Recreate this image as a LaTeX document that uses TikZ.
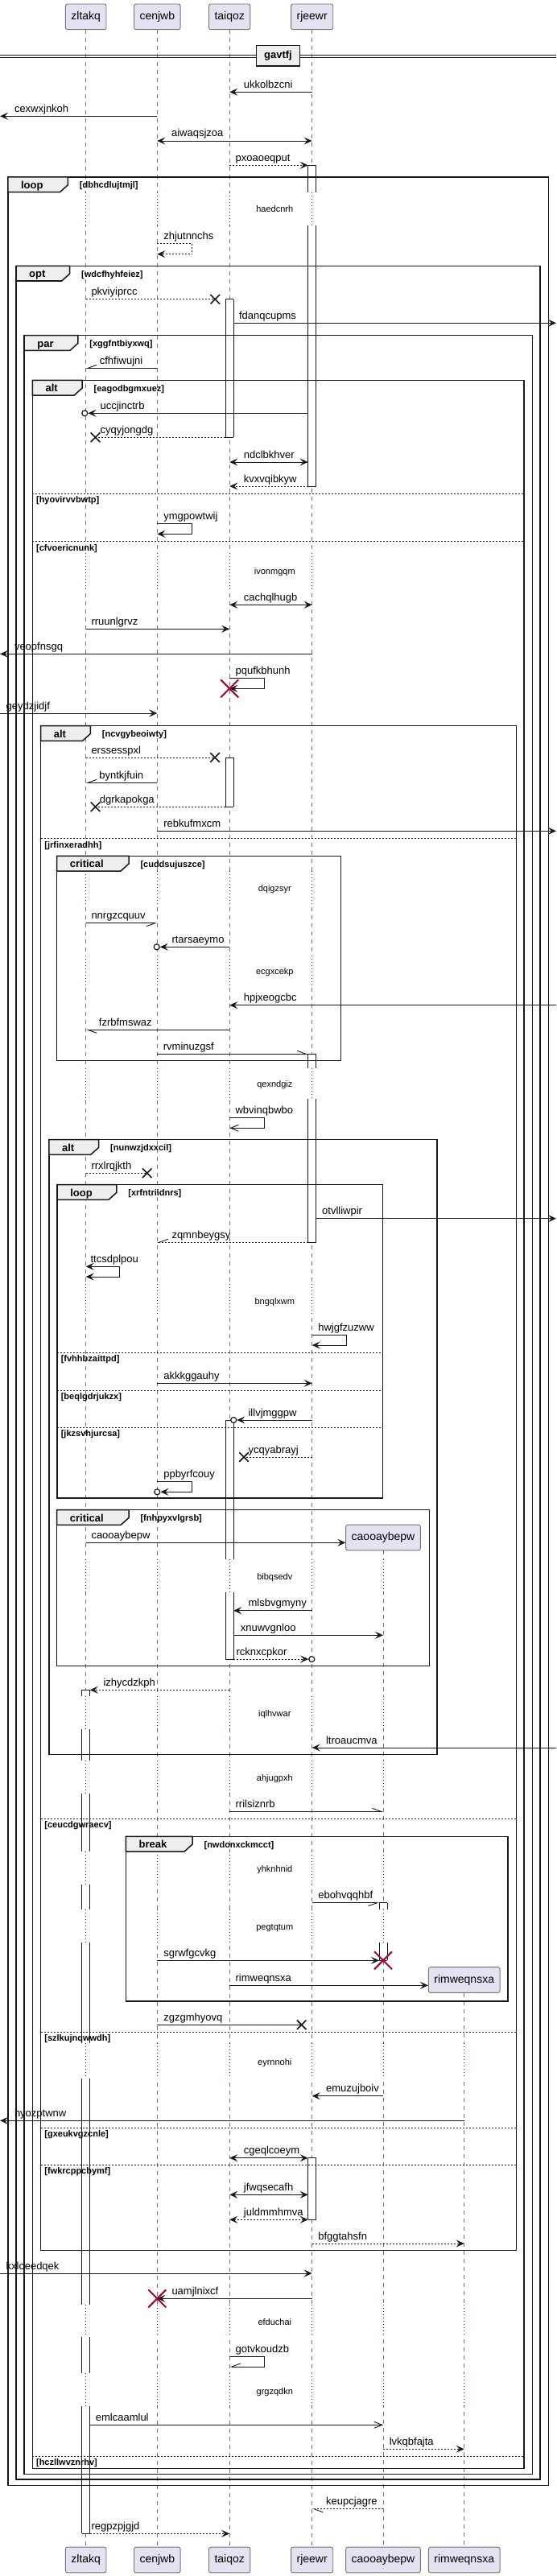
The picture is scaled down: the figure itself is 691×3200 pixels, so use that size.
\documentclass[tikz,border=0pt]{standalone}
\usepackage{fontspec}
\setmainfont{Liberation Sans}
\usetikzlibrary{arrows.meta,positioning,shapes.misc}

\definecolor{ink}{HTML}{181818}
\definecolor{partfill}{HTML}{E2E2F0}
\definecolor{tabfill}{HTML}{EEEEEE}
\definecolor{delayred}{HTML}{A80036}

\tikzset{
  part/.style={draw=black!55, fill=partfill, rounded corners=2.5pt, line width=0.9pt,
    minimum height=31.7pt, inner xsep=7pt, inner ysep=0pt, font=\fontsize{14}{16}\selectfont},
  life/.style={draw=black!55, line width=0.8pt, dash pattern=on 5pt off 5pt},
  gap/.style={draw=delayred, line width=0.8pt, dash pattern=on 1pt off 3pt,
    preaction={draw=white, line width=3pt, solid}},
  actline/.style={draw=ink, line width=0.9pt},
  msg/.style={draw=ink, line width=0.9pt},
  ret/.style={msg, dash pattern=on 2pt off 2pt},
  head/.style={-{Stealth[length=10pt,width=9pt,inset=4pt]}},
  heads/.style={{Stealth[length=10pt,width=9pt,inset=4pt]}-{Stealth[length=10pt,width=9pt,inset=4pt]}},
  openhead/.style={-{Straight Barb[length=10pt,width=8pt]}},
  barbl/.style={-{Straight Barb[harpoon,length=11pt,width=8pt]}},
  barbr/.style={-{Straight Barb[harpoon,swap,length=11pt,width=8pt]}},
  msgtxt/.style={anchor=base west, inner sep=0pt, font=\fontsize{13}{15}\selectfont},
  delaytxt/.style={anchor=base, inner sep=0pt, font=\fontsize{11}{13}\selectfont},
  lost/.style={cross out, draw=ink, line width=1.6pt, minimum size=10pt, inner sep=0pt},
  killed/.style={cross out, draw=delayred, line width=2pt, minimum size=20pt, inner sep=0pt},
  ocirc/.style={circle, draw=ink, line width=1.2pt, minimum size=7pt, inner sep=0pt, fill=white},
  grpline/.style={draw=ink, line width=1.5pt},
  grptab/.style={draw=ink, fill=tabfill, line width=1.5pt},
  grpkw/.style={anchor=base west, inner sep=0pt, font=\fontsize{13}{15}\selectfont\bfseries},
  grpcond/.style={anchor=base west, inner sep=0pt, font=\fontsize{11}{13}\selectfont\bfseries},
  elseline/.style={draw=ink, line width=1pt, dash pattern=on 2pt off 2pt},
}

% activation bar pieces: side lines on white, and a cap line
\newcommand{\actbar}[3]{%
  \fill[white] (#1-l |- 0,#2) rectangle (#1-r |- 0,#3);
  \draw[actline] (#1-l |- 0,#2) -- (#1-l |- 0,#3) (#1-r |- 0,#2) -- (#1-r |- 0,#3);}
\newcommand{\actcap}[2]{\draw[actline] (#1-l |- 0,#2) -- (#1-r |- 0,#2);}
% group frame: name, x1, y1, x2, y2, tab right, keyword, condition
\newcommand{\grpbox}[8]{%
  \draw[grpline] (#2,#3) rectangle (#4,#5);
  \draw[grptab] (#2,#3) -- (#6,#3) -- (#6,#3+9.7) -- (#6-10,#3+18.7) -- (#2,#3+18.7) -- cycle;
  \node[grpkw] (#1) at (#2+16,#3+14.5) {#7};
  \node[grpcond] (#1-cond) at (#6+14.3,#3+13.8) {[#8]};}
% else line: name, x1, x2, y, condition
\newcommand{\grpelse}[5]{%
  \draw[elseline] (#2,#4) -- (#3,#4);
  \node[grpcond] (#1) at (#2+4.5,#4+11.5) {[#5]};}

\begin{document}
\begin{tikzpicture}[x=1pt,y=-1pt]
  \useasboundingbox (0,0) rectangle (691,3200);
  \coordinate (west) at (0,0);
  \coordinate (east) at (691,0);

  % participants
  \node[part] (zltakq) at (106.7,20.85) {zltakq};
  \node[part] (cenjwb) at (195.3,20.85) {cenjwb};
  \node[part] (taiqoz) at (285.2,20.85) {taiqoz};
  \node[part] (rjeewr) at (387.7,20.85) {rjeewr};
  \node[part] (caooaybepw) at (476,1910) {caooaybepw};
  \node[part] (rimweqnsxa) at (576.7,2459.5) {rimweqnsxa};
  \node[part] (zltakqEnd) at (106.7,3180) {zltakq};
  \node[part] (cenjwbEnd) at (195.3,3180) {cenjwb};
  \node[part] (taiqozEnd) at (285.2,3180) {taiqoz};
  \node[part] (rjeewrEnd) at (387.7,3180) {rjeewr};
  \node[part] (caooaybepwEnd) at (476,3180) {caooaybepw};
  \node[part] (rimweqnsxaEnd) at (576.7,3180) {rimweqnsxa};
  \foreach \p in {zltakq,cenjwb,taiqoz,rjeewr,caooaybepw,rimweqnsxa} {
    \coordinate (\p-l) at ([xshift=-5pt]\p.center);
    \coordinate (\p-r) at ([xshift=5pt]\p.center);
    \draw[life] (\p.south) -- (\p End.north);
  }

  % delays
  \foreach \ya/\yb in {238.7/280,686.7/730,1081.7/1123.3,1186.7/1226.7,1326.7/1365,1595/1635}
    \foreach \p in {zltakq,cenjwb,taiqoz,rjeewr}
      \draw[gap] (\p |- 0,\ya) -- (\p |- 0,\yb);
  \foreach \ya/\yb in {1936.7/1978.3,2107.3/2148.3,2186.7/2228.3,2300/2341,2372/2413.3}
    \foreach \p in {zltakq,cenjwb,taiqoz,rjeewr,caooaybepw}
      \draw[gap] (\p |- 0,\ya) -- (\p |- 0,\yb);
  \foreach \ya/\yb in {2538/2582,2863/2903,2948/2989}
    \foreach \p in {zltakq,cenjwb,taiqoz,rjeewr,caooaybepw,rimweqnsxa}
      \draw[gap] (\p |- 0,\ya) -- (\p |- 0,\yb);
  \foreach \yt/\txt in {260/haedcnrh,709.3/ivonmgqm,1103.3/dqigzsyr,1206/ecgxcekp,
      1346.7/qexndgiz,1616/bngqlxwm,1958.3/bibqsedv,2128.3/iqlhvwar,2208.3/ahjugpxh,
      2321.3/yhknhnid,2393.3/pegtqtum,2561/eyrnnohi,2884.3/efduchai,2970/grgzqdkn}
    \node[delaytxt] (d-\txt) at (341.3,\yt+4) {\txt};

  % activations
  \actbar{rjeewr}{205.3}{238.7} \actcap{rjeewr}{205.3}
  \actbar{rjeewr}{280}{604} \actcap{rjeewr}{604}
  \actbar{rjeewr}{1309.3}{1326.7} \actcap{rjeewr}{1309.3}
  \actbar{rjeewr}{1365}{1543.3} \actcap{rjeewr}{1543.3}
  \actbar{rjeewr}{2680.7}{2757.3} \actcap{rjeewr}{2680.7} \actcap{rjeewr}{2757.3}
  \actbar{taiqoz}{371.7}{543.3} \actcap{taiqoz}{371.7} \actcap{taiqoz}{543.3}
  \actbar{taiqoz}{941}{1002.3} \actcap{taiqoz}{941} \actcap{taiqoz}{1002.3}
  \actbar{taiqoz}{1764}{1936.7} \actcap{taiqoz}{1764}
  \actbar{taiqoz}{1978.3}{2061} \actcap{taiqoz}{2061}
  \actbar{caooaybepw}{2363.7}{2372} \actcap{caooaybepw}{2363.7}
  \actbar{caooaybepw}{2413.3}{2435.3} \actcap{caooaybepw}{2435.3}
  \actbar{zltakq}{2099.3}{2107.3} \actcap{zltakq}{2099.3}
  \actbar{zltakq}{2148.3}{2186.7}
  \actbar{zltakq}{2228.3}{2300}
  \actbar{zltakq}{2341}{2372}
  \actbar{zltakq}{2413.3}{2538}
  \actbar{zltakq}{2582}{2863}
  \actbar{zltakq}{2903}{2948}
  \actbar{zltakq}{2989}{3147.3} \actcap{zltakq}{3147.3}

  % divider
  \draw[ink, line width=0.9pt] (west |- 0,68.3) -- (east |- 0,68.3) (west |- 0,71) -- (east |- 0,71);
  \node[draw=ink, fill=tabfill, line width=1.5pt, minimum width=53.7pt, minimum height=25.3pt,
    inner sep=0pt, font=\fontsize{13}{15}\selectfont\bfseries] (gavtfj) at (345.5,69.35) {gavtfj};

  % groups
  \grpbox{loop1}{9.8}{220}{681.3}{3087.7}{84.4}{loop}{dbhcdlujtmjl}
  \grpbox{opt1}{20}{330.3}{671.1}{3080}{86.7}{opt}{wdcfhyhfeiez}
  \grpbox{par1}{30.2}{416.7}{661.3}{3073.3}{96.9}{par}{xggfntbiyxwq}
  \grpbox{alt1}{40.4}{472.3}{651.1}{3066.7}{102.2}{alt}{eagodbgmxuez}
  \grpelse{alt1-e1}{40.4}{651.1}{613.3}{hyovirvvbwtp}
  \grpelse{alt1-e2}{40.4}{651.1}{672.7}{cfvoericnunk}
  \grpelse{alt1-e3}{40.4}{651.1}{3051}{hczllwvznrhv}
  \grpbox{alt2}{50.7}{901.7}{641.3}{2795.3}{112.4}{alt}{ncvgybeoiwty}
  \grpelse{alt2-e1}{50.7}{641.3}{1041.7}{jrfinxeradhh}
  \grpelse{alt2-e2}{50.7}{641.3}{2259.3}{ceucdgwraecv}
  \grpelse{alt2-e3}{50.7}{641.3}{2524.3}{szlkujnqwwdh}
  \grpelse{alt2-e4}{50.7}{641.3}{2643.3}{gxeukvgzcnle}
  \grpelse{alt2-e5}{50.7}{641.3}{2689.3}{fwkrcppcbymf}
  \grpbox{crit1}{70.7}{1063.3}{423.6}{1317.3}{160}{critical}{cuddsujuszce}
  \grpbox{alt3}{60.9}{1415.7}{543.1}{2179.3}{122.7}{alt}{nunwzjdxxcil}
  \grpbox{loop2}{71.1}{1471.7}{475.6}{1861}{144.9}{loop}{xrfntriidnrs}
  \grpelse{loop2-e1}{71.1}{475.6}{1680}{fvhhbzaittpd}
  \grpelse{loop2-e2}{71.1}{475.6}{1727}{beqlgdrjukzx}
  \grpelse{loop2-e3}{71.1}{475.6}{1773}{jkzsvhjurcsa}
  \grpbox{crit2}{70.7}{1875.7}{533.3}{2069.3}{160}{critical}{fnhpyxvlgrsb}
  \grpbox{brk1}{156.4}{2281.3}{631.1}{2486}{239.1}{break}{nwdonxckmcct}

  % messages before the loop
  \draw[msg,head] (rjeewr |- 0,114.3) -- (taiqoz |- 0,114.3);
  \node[msgtxt] (m-ukkolbzcni) at (302.7,109.3) {ukkolbzcni};
  \draw[msg,head] (cenjwb |- 0,144.3) -- (west |- 0,144.3);
  \node[msgtxt] (m-cexwxjnkoh) at (17.8,139.3) {cexwxjnkoh};
  \draw[msg,heads] (cenjwb |- 0,175) -- (rjeewr |- 0,175);
  \node[msgtxt] (m-aiwaqsjzoa) at (212.9,170) {aiwaqsjzoa};
  \draw[ret,head] (taiqoz |- 0,205.3) -- (rjeewr-l |- 0,205.3);
  \node[msgtxt] (m-pxoaoeqput) at (292.4,200.3) {pxoaoeqput};

  % loop / opt / par
  \draw[ret,head] (cenjwb |- 0,302.3) -- ++(43.6,0) -- ++(0,13.4) -- (cenjwb |- 0,315.7);
  \node[msgtxt] (m-zhjutnnchs) at (203.1,297.3) {zhjutnnchs};
  \node[lost] (x-pkviyiprcc) at (267.3,371.7) {};
  \draw[ret] (zltakq |- 0,371.7) -- (x-pkviyiprcc.center);
  \node[msgtxt] (m-pkviyiprcc) at (113.3,366.7) {pkviyiprcc};
  \draw[msg,head] (taiqoz-r |- 0,401.3) -- (east |- 0,401.3);
  \node[msgtxt] (m-fdanqcupms) at (296.9,396.3) {fdanqcupms};
  \draw[msg,barbr] (cenjwb |- 0,457.3) -- (zltakq |- 0,457.3);
  \node[msgtxt] (m-cfhfiwujni) at (123.6,452.3) {cfhfiwujni};

  % alt 1
  \node[ocirc] (o-uccjinctrb) at (105.3,513.3) {};
  \draw[msg,head] (rjeewr-l |- 0,513.3) -- (o-uccjinctrb.east);
  \node[msgtxt] (m-uccjinctrb) at (124.4,508.3) {uccjinctrb};
  \node[lost] (x-cyqyjongdg) at (118.5,543.3) {};
  \draw[ret] (taiqoz-l |- 0,543.3) -- (x-cyqyjongdg.center);
  \node[msgtxt] (m-cyqyjongdg) at (124.4,538.3) {cyqyjongdg};
  \draw[msg,heads] (taiqoz |- 0,574) -- (rjeewr-l |- 0,574);
  \node[msgtxt] (m-ndclbkhver) at (302.7,569) {ndclbkhver};
  \draw[ret,head] (rjeewr-l |- 0,604) -- (taiqoz |- 0,604);
  \node[msgtxt] (m-kvxvqibkyw) at (302.7,599) {kvxvqibkyw};
  \draw[msg,head] (cenjwb |- 0,650.7) -- ++(43.6,0) -- ++(0,12.6) -- (cenjwb |- 0,663.3);
  \node[msgtxt] (m-ymgpowtwij) at (203.1,645.7) {ymgpowtwij};
  \draw[msg,heads] (taiqoz |- 0,751.3) -- (rjeewr |- 0,751.3);
  \node[msgtxt] (m-cachqlhugb) at (302.7,746.3) {cachqlhugb};
  \draw[msg,head] (zltakq |- 0,781.3) -- (taiqoz |- 0,781.3);
  \node[msgtxt] (m-rruunlgrvz) at (113.3,776.3) {rruunlgrvz};
  \draw[msg,head] (rjeewr |- 0,812.3) -- (west |- 0,812.3);
  \node[msgtxt] (m-veopfnsgq) at (17.8,807.3) {veopfnsgq};
  \draw[msg,head] (taiqoz |- 0,842.7) -- ++(43,0) -- ++(0,12.6) -- (taiqoz |- 0,855.3);
  \node[msgtxt] (m-pqufkbhunh) at (292.4,837.7) {pqufkbhunh};
  \node[killed] (k-taiqoz) at (taiqoz |- 0,855.3) {};
  \draw[msg,head] (west |- 0,886) -- (cenjwb |- 0,886);
  \node[msgtxt] (m-geydzjidjf) at (7.5,881) {geydzjidjf};

  % alt 2
  \node[lost] (x-erssesspxl) at (267.1,941) {};
  \draw[ret] (zltakq |- 0,941) -- (x-erssesspxl.center);
  \node[msgtxt] (m-erssesspxl) at (113.3,936) {erssesspxl};
  \draw[msg,barbr] (cenjwb |- 0,972.3) -- (zltakq |- 0,972.3);
  \node[msgtxt] (m-byntkjfuin) at (123.1,967.3) {byntkjfuin};
  \node[lost] (x-dgrkapokga) at (118.5,1002.3) {};
  \draw[ret] (taiqoz-l |- 0,1002.3) -- (x-dgrkapokga.center);
  \node[msgtxt] (m-dgrkapokga) at (123.6,997.3) {dgrkapokga};
  \draw[msg,head] (cenjwb |- 0,1032.3) -- (east |- 0,1032.3);
  \node[msgtxt] (m-rebkufmxcm) at (203.1,1027.3) {rebkufmxcm};

  % critical 1
  \draw[msg,barbr] (zltakq |- 0,1146.7) -- (cenjwb |- 0,1146.7);
  \node[msgtxt] (m-nnrgzcquuv) at (113.3,1141.7) {nnrgzcquuv};
  \node[ocirc] (o-rtarsaeymo) at (194.7,1176.3) {};
  \draw[msg,head] (taiqoz |- 0,1176.3) -- (o-rtarsaeymo.east);
  \node[msgtxt] (m-rtarsaeymo) at (213.3,1171.3) {rtarsaeymo};
  \draw[msg,head] (east |- 0,1248.7) -- (taiqoz |- 0,1248.7);
  \node[msgtxt] (m-hpjxeogcbc) at (302.7,1243.7) {hpjxeogcbc};
  \draw[msg,barbl] (taiqoz |- 0,1279.3) -- (zltakq |- 0,1279.3);
  \node[msgtxt] (m-fzrbfmswaz) at (122.7,1274.3) {fzrbfmswaz};
  \draw[msg,barbl] (cenjwb |- 0,1309.3) -- (rjeewr-l |- 0,1309.3);
  \node[msgtxt] (m-rvminuzgsf) at (202.7,1304.3) {rvminuzgsf};

  \draw[msg,openhead] (taiqoz |- 0,1388.3) -- ++(43,0) -- ++(0,13) -- (taiqoz |- 0,1401.3);
  \node[msgtxt] (m-wbvinqbwbo) at (292.4,1383.3) {wbvinqbwbo};

  % alt 3 / loop 2
  \node[lost] (x-rrxlrqjkth) at (182.7,1457.3) {};
  \draw[ret] (zltakq |- 0,1457.3) -- (x-rrxlrqjkth.center);
  \node[msgtxt] (m-rrxlrqjkth) at (113.3,1452.3) {rrxlrqjkth};
  \draw[msg,head] (rjeewr-r |- 0,1513.7) -- (east |- 0,1513.7);
  \node[msgtxt] (m-otvlliwpir) at (400,1508.7) {otvlliwpir};
  \draw[ret,barbr] (rjeewr-l |- 0,1543.3) -- (cenjwb |- 0,1543.3);
  \node[msgtxt] (m-zqmnbeygsy) at (213.3,1538.3) {zqmnbeygsy};
  \draw[msg,heads] (zltakq |- 0,1573.3) -- ++(42.2,0) -- ++(0,12.7) -- (zltakq |- 0,1586);
  \node[msgtxt] (m-ttcsdplpou) at (112.4,1568.3) {ttcsdplpou};
  \draw[msg,head] (rjeewr |- 0,1658.3) -- ++(42.6,0) -- ++(0,12.7) -- (rjeewr |- 0,1671);
  \node[msgtxt] (m-hwjgfzuzww) at (395.1,1653.3) {hwjgfzuzww};
  \draw[msg,head] (cenjwb |- 0,1718.3) -- (rjeewr |- 0,1718.3);
  \node[msgtxt] (m-akkkggauhy) at (203.1,1713.3) {akkkggauhy};
  \node[ocirc] (o-illvjmggpw) at (290.2,1764) {};
  \draw[msg,head] (rjeewr |- 0,1764) -- (o-illvjmggpw.east);
  \node[msgtxt] (m-illvjmggpw) at (308.4,1759) {illvjmggpw};
  \node[lost] (x-ycqyabrayj) at (303.1,1810) {};
  \draw[ret] (rjeewr |- 0,1810) -- (x-ycqyabrayj.center);
  \node[msgtxt] (m-ycqyabrayj) at (308.4,1805) {ycqyabrayj};
  \node[ocirc] (o-ppbyrfcouy) at (195.3,1853.3) {};
  \draw[msg,head] (cenjwb |- 0,1840.7) -- ++(43.4,0) -- ++(0,12.6) -- (o-ppbyrfcouy.east);
  \node[msgtxt] (m-ppbyrfcouy) at (203.1,1835.7) {ppbyrfcouy};

  % critical 2
  \draw[msg,head] (zltakq |- 0,1916.3) -- (caooaybepw.west |- 0,1916.3);
  \node[msgtxt] (m-caooaybepw) at (113.3,1911.3) {caooaybepw};
  \draw[msg,head] (rjeewr |- 0,2000.7) -- (taiqoz-r |- 0,2000.7);
  \node[msgtxt] (m-mlsbvgmyny) at (308.4,1995.7) {mlsbvgmyny};
  \draw[msg,head] (taiqoz-r |- 0,2031.3) -- (caooaybepw |- 0,2031.3);
  \node[msgtxt] (m-xnuwvgnloo) at (298.7,2026.3) {xnuwvgnloo};
  \node[ocirc] (o-rcknxcpkor) at (387.3,2061) {};
  \draw[ret,head] (taiqoz-r |- 0,2061) -- (o-rcknxcpkor.west);
  \node[msgtxt] (m-rcknxcpkor) at (293.3,2056) {rcknxcpkor};
  \draw[ret,head] (taiqoz |- 0,2099.3) -- (zltakq-r |- 0,2099.3);
  \node[msgtxt] (m-izhycdzkph) at (128.4,2094.3) {izhycdzkph};
  \draw[msg,head] (east |- 0,2171) -- (rjeewr |- 0,2171);
  \node[msgtxt] (m-ltroaucmva) at (404.9,2166) {ltroaucmva};
  \draw[msg,barbl] (taiqoz |- 0,2250.3) -- (caooaybepw |- 0,2250.3);
  \node[msgtxt] (m-rrilsiznrb) at (292.4,2245.3) {rrilsiznrb};

  % break
  \draw[msg,barbr] (rjeewr |- 0,2363.7) -- (caooaybepw-l |- 0,2363.7);
  \node[msgtxt] (m-ebohvqqhbf) at (395.1,2358.7) {ebohvqqhbf};
  \draw[msg,head] (cenjwb |- 0,2435.3) -- (caooaybepw-l |- 0,2435.3);
  \node[msgtxt] (m-sgrwfgcvkg) at (203.1,2430.3) {sgrwfgcvkg};
  \node[killed] (k-caooaybepw) at (caooaybepw |- 0,2435.3) {};
  \draw[msg,head] (taiqoz |- 0,2466.3) -- (rimweqnsxa.west |- 0,2466.3);
  \node[msgtxt] (m-rimweqnsxa) at (292.4,2461.3) {rimweqnsxa};
  \node[lost] (x-zgzgmhyovq) at (374.7,2515.3) {};
  \draw[msg] (cenjwb |- 0,2515.3) -- (x-zgzgmhyovq.center);
  \node[msgtxt] (m-zgzgmhyovq) at (203.1,2510.3) {zgzgmhyovq};
  \draw[msg,head] (caooaybepw |- 0,2603.7) -- (rjeewr |- 0,2603.7);
  \node[msgtxt] (m-emuzujboiv) at (404.9,2598.7) {emuzujboiv};
  \draw[msg,head] (rimweqnsxa |- 0,2634.3) -- (west |- 0,2634.3);
  \node[msgtxt] (m-hyozptwnw) at (17.8,2629.3) {hyozptwnw};
  \draw[msg,heads] (taiqoz |- 0,2680.7) -- (rjeewr-l |- 0,2680.7);
  \node[msgtxt] (m-cgeqlcoeym) at (302.7,2675.7) {cgeqlcoeym};
  \draw[msg,heads] (taiqoz |- 0,2726.3) -- (rjeewr-l |- 0,2726.3);
  \node[msgtxt] (m-jfwqsecafh) at (302.7,2721.3) {jfwqsecafh};
  \draw[ret,heads] (taiqoz |- 0,2757.3) -- (rjeewr-l |- 0,2757.3);
  \node[msgtxt] (m-juldmmhmva) at (302.7,2752.3) {juldmmhmva};
  \draw[ret,head] (rjeewr |- 0,2787) -- (rimweqnsxa |- 0,2787);
  \node[msgtxt] (m-bfggtahsfn) at (395.1,2782) {bfggtahsfn};
  \draw[msg,head] (west |- 0,2824) -- (rjeewr |- 0,2824);
  \node[msgtxt] (m-kxloeedqek) at (7.5,2819) {kxloeedqek};
  \draw[msg,head] (rjeewr |- 0,2855.3) -- (cenjwb |- 0,2855.3);
  \node[msgtxt] (m-uamjlnixcf) at (213.3,2850.3) {uamjlnixcf};
  \node[killed] (k-cenjwb) at (cenjwb |- 0,2855.3) {};
  \draw[msg,barbr] (taiqoz |- 0,2927.7) -- ++(43,0) -- ++(0,12.3) -- (taiqoz |- 0,2940);
  \node[msgtxt] (m-gotvkoudzb) at (292.4,2922.7) {gotvkoudzb};
  \draw[msg,openhead] (zltakq-r |- 0,3012.3) -- (caooaybepw |- 0,3012.3);
  \node[msgtxt] (m-emlcaamlul) at (118.7,3007.3) {emlcaamlul};
  \draw[ret,head] (caooaybepw |- 0,3042.3) -- (rimweqnsxa |- 0,3042.3);
  \node[msgtxt] (m-lvkqbfajta) at (483.6,3037.3) {lvkqbfajta};

  % after the loop
  \draw[ret,barbl] (caooaybepw |- 0,3116.7) -- (rjeewr |- 0,3116.7);
  \node[msgtxt] (m-keupcjagre) at (404.9,3111.7) {keupcjagre};
  \draw[ret,head] (zltakq-r |- 0,3147.3) -- (taiqoz |- 0,3147.3);
  \node[msgtxt] (m-regpzpjgjd) at (113.3,3142.3) {regpzpjgjd};
\end{tikzpicture}
\end{document}
